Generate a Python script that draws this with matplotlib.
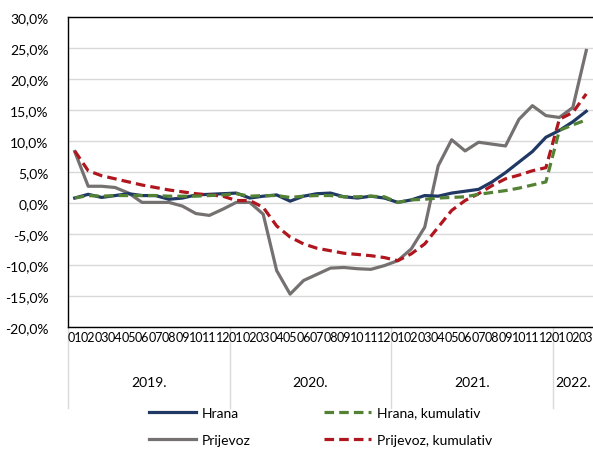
import matplotlib
matplotlib.use("Agg")
import matplotlib.pyplot as plt
from matplotlib.ticker import FuncFormatter

plt.rcParams['font.family'] = ['Lato', 'DejaVu Sans']

# data: monthly values, 2019-01 .. 2022-03 (%)
years = ['2019.', '2020.', '2021.', '2022.']
months_per_year = [12, 12, 12, 3]
month_labels = ['%02d' % m for n in months_per_year for m in range(1, n + 1)]

hrana = [0.8, 1.4, 0.9, 1.2, 1.5, 1.2, 1.2, 0.6, 0.8, 1.3, 1.4, 1.5,
         1.6, 0.8, 1.1, 1.3, 0.3, 1.1, 1.5, 1.6, 1.0, 0.8, 1.1, 0.8,
         0.1, 0.5, 1.2, 1.1, 1.6, 1.9, 2.2, 3.4, 4.9, 6.6, 8.3, 10.6,
         11.7, 13.1, 14.8]
hrana_kum = [0.8, 1.2, 1.1, 1.2, 1.2, 1.2, 1.2, 1.1, 1.1, 1.1, 1.2, 1.3,
             1.5, 1.1, 1.2, 1.2, 0.9, 1.1, 1.2, 1.2, 1.0, 1.0, 1.1, 1.0,
             0.1, 0.5, 0.6, 0.8, 0.9, 1.0, 1.4, 1.7, 2.0, 2.4, 2.9, 3.4,
             11.7, 12.6, 13.4]
prijevoz = [8.3, 2.7, 2.7, 2.5, 1.6, 0.1, 0.1, 0.1, -0.5, -1.7, -2.0, -1.0,
            0.1, 0.1, -1.8, -10.9, -14.7, -12.5, -11.5, -10.5, -10.4, -10.6, -10.7, -10.1,
            -9.3, -7.4, -3.9, 6.0, 10.2, 8.4, 9.8, 9.5, 9.2, 13.5, 15.7, 14.1,
            13.8, 15.4, 24.6]
prijevoz_kum = [8.4, 5.2, 4.4, 3.9, 3.4, 2.9, 2.5, 2.1, 1.8, 1.5, 1.3, 1.1,
                0.4, 0.4, -0.7, -3.7, -5.5, -6.6, -7.3, -7.7, -8.1, -8.3, -8.5, -8.8,
                -9.3, -8.2, -6.6, -3.9, -1.2, 0.4, 1.5, 2.8, 3.9, 4.5, 5.2, 5.7,
                13.5, 14.6, 17.6]

x = list(range(len(month_labels)))

fig = plt.figure(figsize=(5.93, 4.52), dpi=100)
ax = fig.add_axes([68 / 593, 1 - 328 / 452, 525 / 593, 310 / 452])

lw = 2.3
l_pr, = ax.plot(x, prijevoz, color='#767171', lw=lw, label='Prijevoz', zorder=3)
l_hr, = ax.plot(x, hrana, color='#1f3864', lw=lw, label='Hrana', zorder=4)
l_prk, = ax.plot(x, prijevoz_kum, color='#b0161e', lw=lw, ls=(0, (3, 1.6)),
                 label='Prijevoz, kumulativ', zorder=5)
l_hrk, = ax.plot(x, hrana_kum, color='#548235', lw=lw, ls=(0, (3, 1.6)),
                 label='Hrana, kumulativ', zorder=6)

ax.set_xlim(-0.5, len(x) - 0.5)
ax.set_ylim(-20, 30)
ax.set_yticks(range(-20, 31, 5))
ax.yaxis.set_major_formatter(FuncFormatter(lambda v, p: ('%.1f%%' % v).replace('.', ',')))
ax.grid(axis='y', color='#d9d9d9', lw=1)
ax.set_axisbelow(True)
ax.tick_params(axis='y', length=0, labelsize=10, pad=14)
ax.set_xticks([])
for s in ['left', 'bottom', 'top']:
    ax.spines[s].set_color('black')
    ax.spines[s].set_linewidth(1)
ax.spines['right'].set_visible(False)

# two-level category axis
trans = ax.get_xaxis_transform()
for i, lab in enumerate(month_labels):
    ax.text(i, -0.032, lab, transform=trans, ha='center', va='center', fontsize=9)
start = 0
bounds = [-0.5]
for yr, n in zip(years, months_per_year):
    ax.text(start + (n - 1) / 2, -0.177, yr, transform=trans, ha='center',
            va='center', fontsize=10)
    start += n
    bounds.append(start - 0.5)
for b in bounds[:-1]:
    ax.plot([b, b], [0, -0.26], transform=trans, color='#d9d9d9', lw=1,
            clip_on=False, zorder=1)

fig.legend(handles=[l_hr, l_pr, l_hrk, l_prk], loc='upper center',
           bbox_to_anchor=(0.54, 0.126),
           ncol=2, frameon=False, fontsize=10, handlelength=3.4,
           columnspacing=5.3, labelspacing=1.1, handletextpad=0.4)

fig.savefig('out.png', dpi=100)
